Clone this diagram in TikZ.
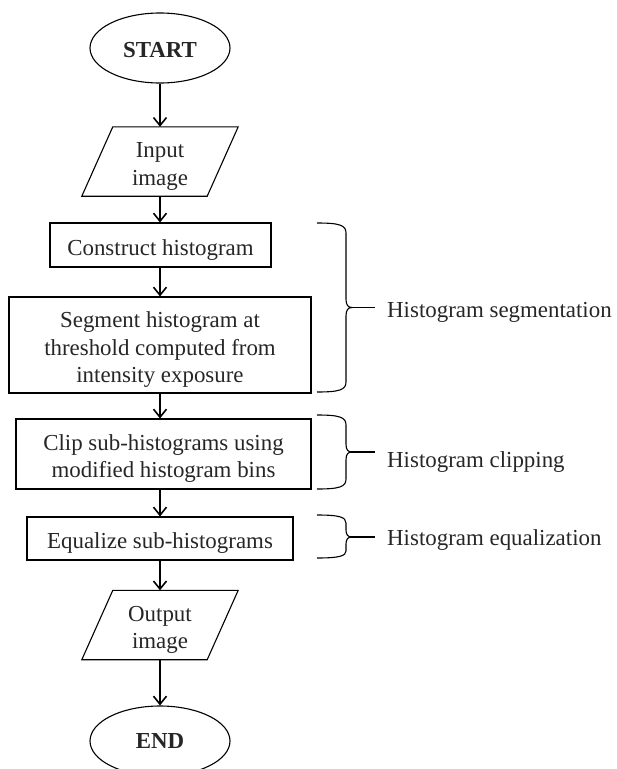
\documentclass[tikz,border=0pt]{standalone}
\usepackage{fontspec}
\setmainfont{Liberation Serif}
\usetikzlibrary{arrows.meta,shapes.geometric}
\newcommand\lowtext[1]{\raisebox{-4.5pt}[\height][\depth]{\begin{tabular}{@{}c@{}}#1\end{tabular}}}
\begin{document}
\begin{tikzpicture}[x=1pt,y=-1pt,
  every node/.style={font=\fontsize{22.9}{27.5}\selectfont, align=center, text=black!85},
  proc/.style={draw, line width=1.1pt, inner sep=0pt},
  term/.style={draw, ellipse, line width=1.1pt, inner sep=0pt, minimum width=140, minimum height=70,
    font=\fontsize{22.9}{27.5}\selectfont\bfseries},
  io/.style={inner sep=0pt, minimum width=125, minimum height=69},
  iobox/.style={line width=1.1pt, line join=miter},
  flow/.style={line width=1.6pt, -{Straight Barb[length=8pt,width=13pt,line width=1.6pt]}},
  brc/.style={line width=1.1pt},
  tipline/.style={line width=1.8pt},
  lab/.style={anchor=base west, inner sep=0pt}]
\useasboundingbox (0,0) rectangle (617,769);

% terminals and steps
\node[term] (start) at (160,48) {\raisebox{-2pt}[\height][\depth]{START}};
\node[io] (in) at (160,161.5) {\lowtext{Input\\image}};
\draw[iobox] ([xshift=15.5pt]in.north west) -- ([xshift=15.5pt]in.north east)
  -- ([xshift=-15.5pt]in.south east) -- ([xshift=-15.5pt]in.south west) -- cycle;
\node[proc, minimum width=221, minimum height=44] (con) at (160.5,245) {\lowtext{Construct histogram}};
\node[proc, minimum width=302, minimum height=96] (seg) at (160,345)
  {\lowtext{Segment histogram at\\threshold computed from\\intensity exposure}};
\node[proc, minimum width=295, minimum height=70] (clip) at (163.5,454)
  {\lowtext{Clip sub-histograms using\\modified histogram bins}};
\node[proc, minimum width=266, minimum height=43] (eq) at (160,538.5) {\lowtext{Equalize sub-histograms}};
\node[io] (out) at (160,625) {\lowtext{Output\\image}};
\draw[iobox] ([xshift=15.5pt]out.north west) -- ([xshift=15.5pt]out.north east)
  -- ([xshift=-15.5pt]out.south east) -- ([xshift=-15.5pt]out.south west) -- cycle;
\node[term] (end) at (160,741) {END};

% flow arrows
\draw[flow] (start.south) -- (in.north);
\draw[flow] (in.south) -- (in.south |- con.north);
\draw[flow] (in.south |- con.south) -- (in.south |- seg.north);
\draw[flow] (seg.south) -- (seg.south |- clip.north);
\draw[flow] (seg.south |- clip.south) -- (eq.north);
\draw[flow] (eq.south) -- (out.north);
\draw[flow] (out.south) -- (end.north);

% braces
\draw[brc] (317,223) .. controls (339,223) and (346,225) .. (346,233)
  -- (346,299) .. controls (346,305) and (348,307.5) .. (352,307.5)
  .. controls (348,307.5) and (346,310) .. (346,316)
  -- (346,382) .. controls (346,390) and (339,392) .. (317,392);
\draw[brc] (317,415) .. controls (339,415) and (346,417) .. (346,425)
  -- (346,444) .. controls (346,450) and (348,452) .. (352,452)
  .. controls (348,452) and (346,454) .. (346,460)
  -- (346,479) .. controls (346,487) and (339,489) .. (317,489);
\draw[brc] (317,515) .. controls (339,515) and (346,517) .. (346,523)
  -- (346,530) .. controls (346,535) and (348,537) .. (352,537)
  .. controls (348,537) and (346,539) .. (346,544)
  -- (346,551) .. controls (346,556) and (339,558) .. (317,558);

\coordinate (t1) at (350,307.5);
\coordinate (t2) at (350,452);
\coordinate (t3) at (350,537);
\node[lab] (l1) at (387,317) {Histogram segmentation};
\node[lab] (l2) at (387,467) {Histogram clipping};
\node[lab] (l3) at (387,545.5) {Histogram equalization};
\draw[tipline] (t1) -- ([xshift=-12pt]t1 -| l1.west);
\draw[tipline] (t2) -- ([xshift=-12pt]t2 -| l2.west);
\draw[tipline] (t3) -- ([xshift=-12pt]t3 -| l3.west);
\end{tikzpicture}
\end{document}
